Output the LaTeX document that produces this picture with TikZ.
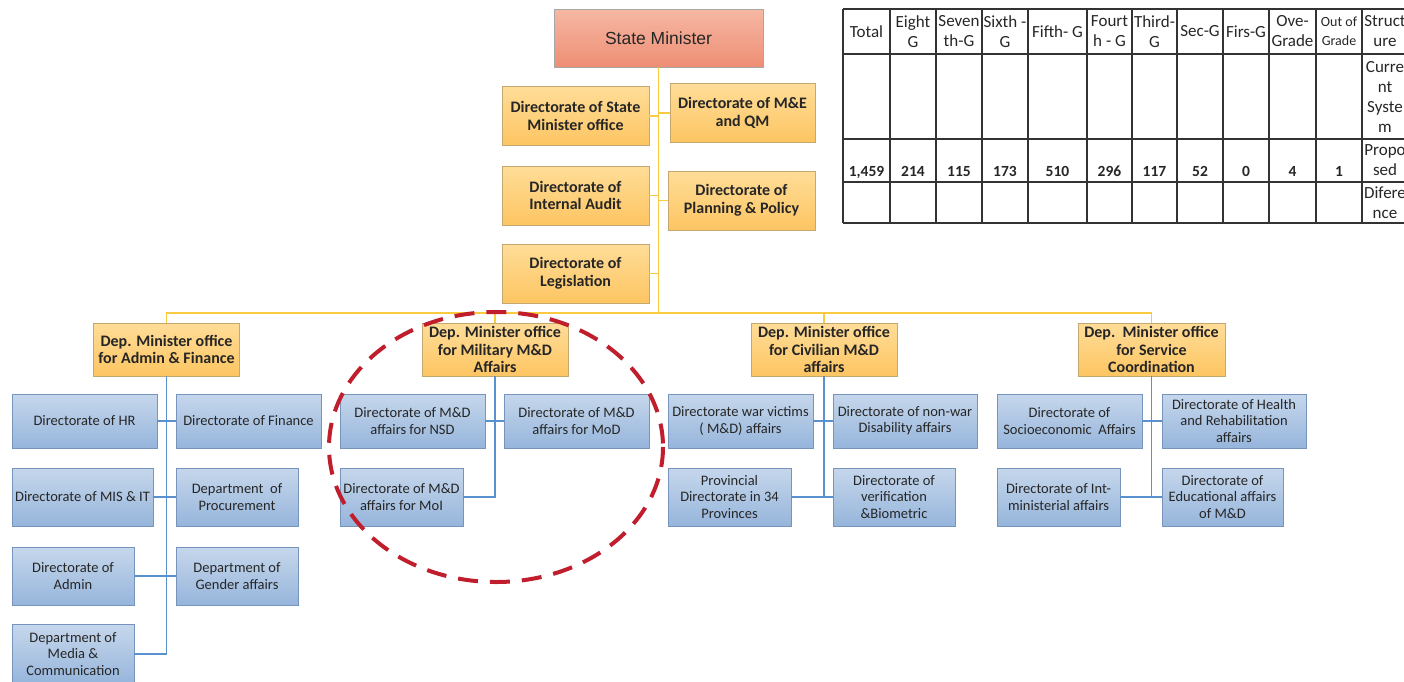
\documentclass[tikz,border=0pt]{standalone}
\usepackage{fontspec}
\setmainfont{Carlito}
\newfontfamily\smfont{Liberation Sans}
\definecolor{salmontop}{RGB}{246,184,164}
\definecolor{salmonbot}{RGB}{238,142,116}
\definecolor{ytop}{RGB}{255,221,152}
\definecolor{ybot}{RGB}{253,197,98}
\definecolor{yedge}{RGB}{196,168,112}
\definecolor{btop}{RGB}{198,215,236}
\definecolor{bbot}{RGB}{150,181,219}
\definecolor{bedge}{RGB}{118,148,188}
\definecolor{linkyellow}{RGB}{250,202,64}
\definecolor{linkblue}{RGB}{88,145,205}
\definecolor{ringred}{RGB}{192,30,44}
\begin{document}
\begin{tikzpicture}[x=1pt,y=-1pt,
	ylink/.style={draw=linkyellow,line width=1.8pt},
	blink/.style={draw=linkblue,line width=1.3pt},
	tline/.style={draw=black!80,line width=1.2pt},
	cell/.style={align=center,inner sep=0pt,text=black!85,font=\fontsize{17}{20}\selectfont}]
	\useasboundingbox (0,0) rectangle (1404,681);
	\clip (0,0) rectangle (1404,681);

	\node (SM) at (658.5,38) [draw=gray!70,top color=salmontop,bottom color=salmonbot,
		minimum width=209pt,minimum height=58pt,text=black!85,
		font=\smfont\fontsize{17.5}{20}\selectfont]{State Minister};

	\begin{scope}[every node/.style={draw=yedge,top color=ytop,bottom color=ybot,
		inner sep=1pt,align=center,text=black!85,minimum height=59pt,
		font=\fontsize{16}{17.7}\selectfont\bfseries}]
	\node (DSO) at (575.5,116) [minimum width=147pt]{Directorate of State\\Minister office};
	\node (ME) at (742.5,113) [minimum width=145pt]{Directorate of M\&E\\and QM};
	\node (IA) at (575.5,195.5) [minimum width=147pt]{Directorate of\\Internal Audit};
	\node (PP) at (741.5,200.5) [minimum width=147pt]{Directorate of\\Planning \& Policy};
	\node (LG) at (575.5,273.5) [minimum width=147pt]{Directorate of\\Legislation};
	\node (AF) at (166.5,349.5) [minimum width=146pt,minimum height=53pt]{Dep. Minister office\\for Admin \& Finance};
	\node (MM) at (495,349.5) [minimum width=146pt,minimum height=53pt]{Dep. Minister office\\for Military M\&D\\Affairs};
	\node (CM) at (824,349.5) [minimum width=146pt,minimum height=53pt]{Dep. Minister office\\for Civilian M\&D\\affairs};
	\node (SC) at (1151.5,349.5) [minimum width=147pt,minimum height=53pt]{Dep.\ \ Minister office\\for Service\\Coordination};
	\end{scope}

	\begin{scope}[every node/.style={draw=bedge,top color=btop,bottom color=bbot,
		inner sep=1pt,align=center,text=black!85,minimum height=58pt,
		font=\fontsize{14.5}{16.3}\selectfont}]
	\node (HR) at (84.5,421) [minimum width=145pt,minimum height=54pt]{Directorate of HR};
	\node (FIN) at (248.5,421) [minimum width=145pt,minimum height=54pt]{Directorate of Finance};
	\node (MIS) at (82.5,497) [minimum width=141pt]{Directorate of MIS \& IT};
	\node (PRO) at (237,497) [minimum width=122pt]{Department\ \ of\\Procurement};
	\node (ADM) at (73,576) [minimum width=122pt]{Directorate of\\Admin};
	\node (GEN) at (237,576) [minimum width=122pt]{Department of\\Gender affairs};
	\node (MED) at (73,654) [minimum width=122pt,minimum height=60pt]{Department of\\Media \&\\Communication};
	\node (NSD) at (412.5,421) [minimum width=145pt,minimum height=54pt]{Directorate of M\&D\\affairs for NSD};
	\node (MOD) at (576.5,421) [minimum width=145pt,minimum height=54pt]{Directorate of M\&D\\affairs for MoD};
	\node (MOI) at (401.5,497) [minimum width=123pt]{Directorate of M\&D\\affairs for MoI};
	\node (WV) at (740.5,421) [minimum width=145pt,minimum height=54pt]{Directorate war victims\\( M\&D) affairs};
	\node (NW) at (905,421) [minimum width=144pt,minimum height=54pt]{Directorate of non-war\\Disability affairs};
	\node (PRV) at (729.5,497) [minimum width=123pt]{Provincial\\Directorate in 34\\Provinces};
	\node (VER) at (894,497) [minimum width=122pt]{Directorate of\\verification\\\&Biometric};
	\node (SE) at (1069.5,421) [minimum width=145pt,minimum height=54pt]{Directorate of\\Socioeconomic\ \ Affairs};
	\node (HRA) at (1234,421) [minimum width=144pt,minimum height=54pt]{Directorate of Health\\and Rehabilitation\\affairs};
	\node (IM) at (1058.5,497) [minimum width=123pt]{Directorate of Int-\\ministerial affairs};
	\node (ED) at (1222.5,497) [minimum width=121pt]{Directorate of\\Educational affairs\\of M\&D};
	\end{scope}

	\coordinate (BUS) at (658.5,313);
	\draw[ylink] (SM.south) -- (BUS);
	\draw[ylink] (DSO.east) -- (DSO.east -| BUS);
	\draw[ylink] (ME.west) -- (ME.west -| BUS);
	\draw[ylink] (IA.east) -- (IA.east -| BUS);
	\draw[ylink] (PP.west) -- (PP.west -| BUS);
	\draw[ylink] (LG.east) -- (LG.east -| BUS);
	\draw[ylink] (AF.north) |- (BUS) -| (SC.north);
	\draw[ylink] (MM.north) -- (MM.north |- BUS);
	\draw[ylink] (CM.north) -- (CM.north |- BUS);

	\draw[blink] (AF.south) |- (MED.east);
	\draw[blink] (HR.east) -- (FIN.west);
	\draw[blink] (MIS.east) -- (PRO.west);
	\draw[blink] (ADM.east) -- (GEN.west);
	\draw[blink] (MM.south) |- (MOI.east);
	\draw[blink] (NSD.east) -- (MOD.west);
	\draw[blink] (CM.south) -- (CM.south |- PRV.east);
	\draw[blink] (WV.east) -- (NW.west);
	\draw[blink] (PRV.east) -- (VER.west);
	\draw[blink] (SC.south) -- (SC.south |- IM.east);
	\draw[blink] (SE.east) -- (HRA.west);
	\draw[blink] (IM.east) -- (ED.west);

	\draw[ringred,line width=4pt,dash pattern=on 20pt off 12pt] (496,447) ellipse [x radius=167,y radius=135];

	\foreach \x in {843,890,936,982,1028,1087,1132,1177,1223,1269,1316,1362,1408}
		\draw[tline] (\x,9) -- (\x,223);
	\foreach \y in {9,54,139,182,223}
		\draw[tline] (843,\y) -- (1408,\y);
	\foreach \x/\t in {866.5/Total,913/{Eight\\G},959/{Seven\\th-G},1005/{Sixth -\\G},
		1057.5/{Fifth- G},1109.5/{Fourt\\h - G},1154.5/{Third-\\G},1200/{Sec-G},
		1246/{Firs-G},1292.5/{Ove-\\Grade},1385/{Struct\\ure}}
		\node[cell] at (\x,31.5) {\t};
	\node[cell,font=\fontsize{14}{19}\selectfont] (OOG) at (1339,31.5) {Out of\\Grade};
	\foreach \x/\t in {866.5/{1,459},913/214,959/115,1005/173,1057.5/510,1109.5/296,
		1154.5/117,1200/52,1246/0,1292.5/4,1339/1}
		\node[cell,anchor=base,font=\fontsize{15.5}{19}\selectfont\bfseries] at (\x,176) {\t};
	\node[cell] (CUR) at (1385,96.5) {Curre\\nt\\Syste\\m};
	\node[cell] (PRP) at (1385,160.5) {Propo\\sed};
	\node[cell] (DIF) at (1385,202.5) {Difere\\nce};
\end{tikzpicture}
\end{document}
